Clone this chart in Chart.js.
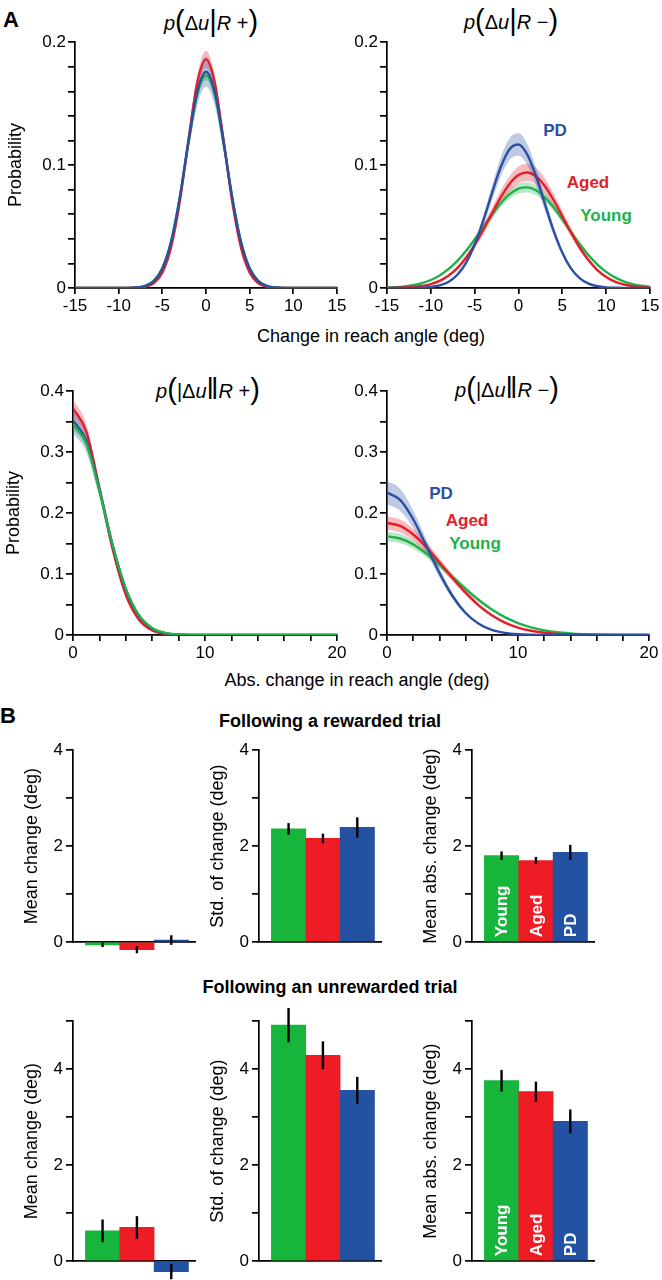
<!DOCTYPE html>
<html>
<head>
<meta charset="utf-8">
<script src="https://cdn.jsdelivr.net/npm/chart.js@4.4.1/dist/chart.umd.min.js"></script>
<style>
  body { margin: 0; background: #fff; }
  #fig { position: relative; width: 662px; height: 1280px; overflow: hidden;
         font-family: "Liberation Sans", Arial, Helvetica, sans-serif; color: #000; }
  canvas { position: absolute; }
  .t { position: absolute; transform: translate(-50%, -50%); white-space: nowrap; line-height: 1; }
  .letter { font-weight: bold; font-size: 22px; }
  .mt { font-size: 20px; }
  .mt .d { font-size: 29px; font-weight: 300; position: relative; top: 1px; }
  .xl { font-size: 18px; }
  .sec { font-weight: bold; font-size: 18px; }
  .lab { font-weight: bold; font-size: 17px; }
</style>
</head>
<body>
<div id="fig">
  <div class="t letter" style="left:11px;top:20px">A</div>
  <div class="t mt" style="left:211px;top:20px"><i>p</i><span class="d">(</span>&Delta;<i>u</i><span class="d">|</span><i>R</i> +<span class="d">)</span></div>
  <div class="t mt" style="left:511px;top:19px"><i>p</i><span class="d">(</span>&Delta;<i>u</i><span class="d">|</span><i>R</i> &minus;<span class="d">)</span></div>
  <div class="t mt" style="left:208px;top:388px"><i>p</i><span class="d">(</span>|&Delta;<i>u</i><span class="d">&#8214;</span><i>R</i> +<span class="d">)</span></div>
  <div class="t mt" style="left:507px;top:387px"><i>p</i><span class="d">(</span>|&Delta;<i>u</i><span class="d">&#8214;</span><i>R</i> &minus;<span class="d">)</span></div>

  <div class="t lab" style="left:555px;top:130px;color:#2b4fa3">PD</div>
  <div class="t lab" style="left:588px;top:182px;color:#e41e2b">Aged</div>
  <div class="t lab" style="left:606px;top:215px;color:#21b14b">Young</div>
  <div class="t lab" style="left:441px;top:493px;color:#2b4fa3">PD</div>
  <div class="t lab" style="left:467px;top:520px;color:#e41e2b">Aged</div>
  <div class="t lab" style="left:475px;top:543px;color:#21b14b">Young</div>

  <div class="t xl" style="left:371px;top:336px">Change in reach angle (deg)</div>
  <div class="t xl" style="left:357px;top:680px">Abs. change in reach angle (deg)</div>

  <div class="t letter" style="left:8px;top:716px">B</div>
  <div class="t sec" style="left:330px;top:721px">Following a rewarded trial</div>
  <div class="t sec" style="left:330px;top:987px">Following an unrewarded trial</div>

  <canvas id="tl"></canvas>
  <canvas id="tr"></canvas>
  <canvas id="bl"></canvas>
  <canvas id="br"></canvas>
  <canvas id="b1"></canvas>
  <canvas id="b2"></canvas>
  <canvas id="b3"></canvas>
  <canvas id="b4"></canvas>
  <canvas id="b5"></canvas>
  <canvas id="b6"></canvas>
</div>
<script>
// ---- data ----
const groups = ['Young', 'Aged', 'PD'];

const angleX = [-15,-14,-13,-12,-11,-10,-9,-8,-7,-6,-5,-4,-3,-2,-1,0,1,2,3,4,5,6,7,8,9,10,11,12,13,14,15];
const absX = [0,1,2,3,4,5,6,7,8,9,10,11,12,13,14,15,16,17,18,19,20];

// p(du | R+)
const rPlusYoung = [0,0,0,0,0,0.00001,0.00008,0.0004,0.0017,0.0058,0.0163,0.0381,0.0739,0.1185,0.1574,0.1730,0.1574,0.1185,0.0739,0.0381,0.0163,0.0058,0.0017,0.0004,0.00008,0.00001,0,0,0,0,0];
const rPlusAged = [0,0,0,0,0,0,0.00003,0.0002,0.0009,0.0038,0.0125,0.0330,0.0703,0.1207,0.1670,0.1860,0.1670,0.1207,0.0703,0.0330,0.0125,0.0038,0.0009,0.0002,0.00003,0,0,0,0,0,0];
const rPlusPD = [0,0,0,0,0,0.00001,0.00007,0.0004,0.0015,0.0054,0.0156,0.0373,0.0735,0.1194,0.1597,0.1760,0.1597,0.1194,0.0735,0.0373,0.0156,0.0054,0.0015,0.0004,0.00007,0.00001,0,0,0,0,0];
const rPlusYoungSem = [0,0,0,0,0,0,0,0,0,0.0002,0.0005,0.0010,0.0018,0.0028,0.0037,0.0040,0.0037,0.0028,0.0018,0.0010,0.0005,0.0002,0,0,0,0,0,0,0,0,0];
const rPlusAgedSem = [0,0,0,0,0,0,0,0,0.0001,0.0003,0.0008,0.0016,0.0030,0.0048,0.0065,0.0070,0.0065,0.0048,0.0030,0.0016,0.0008,0.0003,0.0001,0,0,0,0,0,0,0,0];
const rPlusPDSem = [0,0,0,0,0,0,0,0.0002,0.0004,0.0010,0.0022,0.0035,0.0055,0.0085,0.0112,0.0123,0.0112,0.0085,0.0055,0.0035,0.0022,0.0010,0.0004,0.0002,0,0,0,0,0,0,0];

// p(du | R-)
const rMinusYoung = [0.0004,0.0007,0.0013,0.0023,0.0040,0.0065,0.0102,0.0153,0.0219,0.0301,0.0395,0.0497,0.0599,0.0692,0.0764,0.0809,0.0819,0.0795,0.0738,0.0657,0.0559,0.0456,0.0356,0.0266,0.0191,0.0131,0.0086,0.0054,0.0032,0.0019,0.0010];
const rMinusAged = [0.0001,0.0002,0.0004,0.0008,0.0017,0.0032,0.0058,0.0100,0.0160,0.0244,0.0350,0.0476,0.0611,0.0741,0.0849,0.0919,0.0940,0.0908,0.0830,0.0716,0.0584,0.0450,0.0327,0.0225,0.0146,0.0090,0.0052,0.0029,0.0015,0.0007,0.0003];
const rMinusPD = [0,0.00001,0.00002,0.0001,0.0003,0.0008,0.0021,0.0049,0.0106,0.0203,0.0353,0.0552,0.0778,0.0989,0.1132,0.1168,0.1086,0.0910,0.0687,0.0467,0.0287,0.0158,0.0079,0.0035,0.0014,0.0005,0.0002,0.00004,0,0,0];
const rMinusYoungSem = [0,0,0.0001,0.0001,0.0002,0.0003,0.0005,0.0008,0.0011,0.0015,0.0020,0.0025,0.0030,0.0035,0.0038,0.0040,0.0041,0.0040,0.0037,0.0033,0.0028,0.0023,0.0018,0.0013,0.0010,0.0007,0.0004,0.0003,0.0002,0.0001,0.0001];
const rMinusAgedSem = [0,0,0,0.0001,0.0001,0.0002,0.0004,0.0008,0.0012,0.0018,0.0026,0.0036,0.0046,0.0056,0.0064,0.0069,0.0070,0.0068,0.0062,0.0054,0.0044,0.0034,0.0025,0.0017,0.0011,0.0007,0.0004,0.0002,0.0001,0.0001,0];
const rMinusPDSem = [0,0,0,0,0,0.0001,0.0002,0.0004,0.0008,0.0016,0.0028,0.0043,0.0061,0.0077,0.0088,0.0091,0.0085,0.0071,0.0054,0.0036,0.0022,0.0012,0.0006,0.0003,0.0001,0,0,0,0,0,0];

// p(|du| | R+)
const absPlusYoung = [0.346,0.3148,0.237,0.1478,0.0762,0.0326,0.0116,0.0034,0.0008,0.0002,0,0,0,0,0,0,0,0,0,0,0];
const absPlusAged = [0.372,0.334,0.241,0.141,0.066,0.025,0.0076,0.0019,0.0004,0.0001,0,0,0,0,0,0,0,0,0,0,0];
const absPlusPD = [0.352,0.3194,0.2388,0.147,0.0746,0.0312,0.0108,0.003,0.0008,0.0001,0,0,0,0,0,0,0,0,0,0,0];
const absPlusYoungSem = [0.008,0.007,0.005,0.0034,0.0019,0.0009,0.0003,0.0001,0,0,0,0,0,0,0,0,0,0,0,0,0];
const absPlusAgedSem = [0.015,0.012,0.008,0.005,0.0025,0.001,0.0004,0.0001,0,0,0,0,0,0,0,0,0,0,0,0,0];
const absPlusPDSem = [0.021,0.019,0.014,0.009,0.0055,0.003,0.0013,0.0005,0.0002,0.0001,0,0,0,0,0,0,0,0,0,0,0];

// p(|du| | R-)
const absMinusYoung = [0.1618,0.1583,0.1487,0.1337,0.1154,0.0954,0.0757,0.0575,0.0419,0.0293,0.0196,0.0126,0.0077,0.0045,0.0026,0.0014,0.0007,0.0004,0.0002,0.0001,0.0001];
const absMinusAged = [0.1838,0.1789,0.1649,0.1441,0.1192,0.0934,0.0694,0.0487,0.0325,0.0204,0.0122,0.0069,0.0037,0.0019,0.0009,0.0004,0.0002,0.0001,0,0,0];
const absMinusPD = [0.2336,0.2218,0.1899,0.1465,0.1019,0.0640,0.0361,0.0185,0.0084,0.0035,0.0013,0.0005,0.0002,0.0001,0,0,0,0,0,0,0];
const absMinusYoungSem = [0.008,0.0078,0.0073,0.0066,0.0058,0.0049,0.004,0.0031,0.0023,0.0016,0.0011,0.0007,0.0004,0.0003,0.0002,0.0001,0,0,0,0,0];
const absMinusAgedSem = [0.011,0.0105,0.0095,0.0083,0.007,0.0056,0.0043,0.0031,0.0021,0.0014,0.0009,0.0005,0.0003,0.0002,0.0001,0,0,0,0,0,0];
const absMinusPDSem = [0.019,0.018,0.0145,0.0105,0.0075,0.005,0.003,0.0016,0.0008,0.0003,0.0001,0,0,0,0,0,0,0,0,0,0];

// tick labels
const angleTicks = [-15,-10,-5,0,5,10,15];
const absTicks = [0,10,20];
const probTicksA = [0,0.1,0.2];
const probTicksAbs = [0,0.1,0.2,0.3,0.4];
const barTicks = [0,2,4];

// panel B: Young, Aged, PD
const rewMean = [-0.06,-0.16,0.04];
const rewMeanErr = [0.045,0.075,0.1];
const rewStd = [2.36,2.16,2.39];
const rewStdErr = [0.12,0.1,0.21];
const rewAbs = [1.80,1.70,1.87];
const rewAbsErr = [0.09,0.075,0.155];
const unrMean = [0.63,0.70,-0.22];
const unrMeanErr = [0.235,0.235,0.16];
const unrStd = [4.92,4.29,3.56];
const unrStdErr = [0.36,0.29,0.28];
const unrAbs = [3.76,3.53,2.91];
const unrAbsErr = [0.225,0.21,0.25];

// ---- styles ----
const lineCol = { Young: '#21b14b', Aged: '#e41e2b', PD: '#2b4fa3' };
const bandCol = { Young: 'rgba(33,177,75,0.3)', Aged: 'rgba(228,30,43,0.3)', PD: 'rgba(43,79,163,0.3)' };
const barCol = ['#17b53c', '#ee1c25', '#2452a3'];
const FONT = '"Liberation Sans", Arial, Helvetica, sans-serif';

Chart.defaults.font.family = FONT;
Chart.defaults.color = '#000';
Chart.defaults.animation = false;
Chart.defaults.events = [];
Chart.defaults.plugins.legend.display = false;
Chart.defaults.plugins.tooltip.enabled = false;

function place(id, left, top, w, h) {
  const c = document.getElementById(id);
  c.width = w; c.height = h;
  c.style.left = left + 'px'; c.style.top = top + 'px';
  c.style.width = w + 'px'; c.style.height = h + 'px';
  return c;
}

function pts(xs, ys) { return xs.map((x, i) => ({ x: x, y: ys[i] })); }

function labelIf(v, list) {
  const hit = list.find(t => Math.abs(t - v) < 1e-6);
  return hit === undefined ? '' : String(hit);
}

const border = { color: '#000', width: 1.7 };

function curveChart(id, area, wy, xs, series, xAxis, yAxis, yTitle) {
  const padT = 12, padR = 12, xh = 32;
  const canvas = place(id, area.l - wy, area.t - padT,
    wy + area.r - area.l + padR, padT + area.b - area.t + xh);
  // first dataset is drawn on top, so means go first and bands after
  const datasets = series.map(s => ({
    data: pts(xs, s.y), borderColor: lineCol[s.name], borderWidth: 2.4, fill: false
  }));
  series.forEach(s => {
    datasets.push({ data: pts(xs, s.y.map((v, i) => v + s.sem[i])), borderWidth: 0, fill: false });
    datasets.push({ data: pts(xs, s.y.map((v, i) => v - s.sem[i])), borderWidth: 0, fill: '-1',
                    backgroundColor: bandCol[s.name] });
  });
  new Chart(canvas, {
    type: 'line',
    data: { datasets: datasets },
    options: {
      responsive: false,
      layout: { padding: { top: padT, right: padR, left: 0, bottom: 0 } },
      elements: { point: { radius: 0 }, line: { cubicInterpolationMode: 'monotone' } },
      scales: {
        x: {
          type: 'linear', min: xAxis.min, max: xAxis.max,
          afterFit: s => { s.height = xh; },
          border: border,
          grid: { drawOnChartArea: false, color: '#000', lineWidth: 1.7, tickLength: 6 },
          ticks: { stepSize: xAxis.step, maxTicksLimit: 100, autoSkip: false, maxRotation: 0,
                   padding: 2, font: { size: 17 }, callback: v => labelIf(v, xAxis.labels) }
        },
        y: {
          min: 0, max: yAxis.max,
          afterFit: s => { s.width = wy; },
          border: border,
          grid: { drawOnChartArea: false, color: '#000', lineWidth: 1.7, tickLength: 7 },
          ticks: { stepSize: yAxis.step, maxTicksLimit: 100, autoSkip: false,
                   padding: 2, font: { size: 17 }, callback: v => labelIf(v, yAxis.labels) },
          title: { display: !!yTitle, text: yTitle || '', font: { size: 18 }, padding: { top: 2, bottom: 0 } }
        }
      }
    }
  });
}

const errorBars = {
  id: 'errorBars',
  afterDatasetsDraw(chart) {
    const ds = chart.data.datasets[0];
    const meta = chart.getDatasetMeta(0);
    const y = chart.scales.y;
    const ctx = chart.ctx;
    ctx.save();
    ctx.strokeStyle = '#000';
    ctx.lineWidth = 2.4;
    meta.data.forEach((bar, i) => {
      const v = ds.data[i].y, e = ds.errors[i];
      ctx.beginPath();
      ctx.moveTo(bar.x, y.getPixelForValue(v - e));
      ctx.lineTo(bar.x, y.getPixelForValue(v + e));
      ctx.stroke();
    });
    ctx.restore();
  }
};

const barNames = {
  id: 'barNames',
  afterDatasetsDraw(chart, args, opts) {
    if (!opts || !opts.show) return;
    const meta = chart.getDatasetMeta(0);
    const ctx = chart.ctx;
    meta.data.forEach((bar, i) => {
      ctx.save();
      ctx.translate(bar.x, bar.base - 4);
      ctx.rotate(-Math.PI / 2);
      ctx.fillStyle = '#fff';
      ctx.font = 'bold 17px ' + FONT;
      ctx.textAlign = 'left';
      ctx.textBaseline = 'middle';
      ctx.fillText(groups[i], 0, 1);
      ctx.restore();
    });
  }
};

function barChart(id, axisX, row, vals, errs, yTitle, showNames) {
  const wy = 56, padT = 12, padR = 4, areaW = 122;
  const canvas = place(id, axisX - wy, row.t - padT, wy + areaW + padR, padT + row.b - row.t + row.room);
  new Chart(canvas, {
    type: 'bar',
    data: {
      datasets: [{
        data: groups.map((g, i) => ({ x: i, y: vals[i] })),
        errors: errs,
        backgroundColor: barCol,
        borderWidth: 0,
        barPercentage: 1,
        categoryPercentage: 1,
        clip: false
      }]
    },
    options: {
      responsive: false,
      layout: { padding: { top: padT, right: padR, left: 0, bottom: 0 } },
      plugins: { barNames: { show: showNames } },
      scales: {
        x: {
          type: 'linear', min: -0.86, max: 2.69, offset: false,
          afterFit: s => { s.height = row.room; },
          border: border,
          grid: { display: false, offset: false },
          ticks: { display: false }
        },
        y: {
          min: 0, max: row.max,
          afterFit: s => { s.width = wy; },
          border: border,
          grid: { drawOnChartArea: false, color: '#000', lineWidth: 1.7, tickLength: 7 },
          ticks: { stepSize: 1, maxTicksLimit: 100, autoSkip: false, padding: 3,
                   font: { size: 17 }, callback: v => labelIf(v, barTicks) },
          title: { display: true, text: yTitle, font: { size: 18 }, padding: { top: 4, bottom: 0 } }
        }
      }
    },
    plugins: [errorBars, barNames]
  });
}

// ---- panel A ----
curveChart('tl', { l: 75, r: 337, t: 42, b: 288 }, 72, angleX, [
  { name: 'PD', y: rPlusPD, sem: rPlusPDSem },
  { name: 'Aged', y: rPlusAged, sem: rPlusAgedSem },
  { name: 'Young', y: rPlusYoung, sem: rPlusYoungSem }
], { min: -15, max: 15, step: 5, labels: angleTicks }, { max: 0.2, step: 0.02, labels: probTicksA }, 'Probability');

curveChart('tr', { l: 387, r: 650, t: 42, b: 288 }, 50, angleX, [
  { name: 'PD', y: rMinusPD, sem: rMinusPDSem },
  { name: 'Aged', y: rMinusAged, sem: rMinusAgedSem },
  { name: 'Young', y: rMinusYoung, sem: rMinusYoungSem }
], { min: -15, max: 15, step: 5, labels: angleTicks }, { max: 0.2, step: 0.02, labels: probTicksA }, null);

curveChart('bl', { l: 73, r: 337, t: 391, b: 635 }, 72, absX, [
  { name: 'Young', y: absPlusYoung, sem: absPlusYoungSem },
  { name: 'PD', y: absPlusPD, sem: absPlusPDSem },
  { name: 'Aged', y: absPlusAged, sem: absPlusAgedSem }
], { min: 0, max: 20, step: 2, labels: absTicks }, { max: 0.4, step: 0.05, labels: probTicksAbs }, 'Probability');

curveChart('br', { l: 387, r: 649, t: 391, b: 635 }, 50, absX, [
  { name: 'PD', y: absMinusPD, sem: absMinusPDSem },
  { name: 'Aged', y: absMinusAged, sem: absMinusAgedSem },
  { name: 'Young', y: absMinusYoung, sem: absMinusYoungSem }
], { min: 0, max: 20, step: 2, labels: absTicks }, { max: 0.4, step: 0.05, labels: probTicksAbs }, null);

// ---- panel B ----
const row1 = { t: 749, b: 942, room: 30, max: 4 };
const row2 = { t: 1020, b: 1261, room: 19, max: 5 };

barChart('b1', 73, row1, rewMean, rewMeanErr, 'Mean change (deg)', false);
barChart('b2', 259, row1, rewStd, rewStdErr, 'Std. of change (deg)', false);
barChart('b3', 472, row1, rewAbs, rewAbsErr, 'Mean abs. change (deg)', true);
barChart('b4', 73, row2, unrMean, unrMeanErr, 'Mean change (deg)', false);
barChart('b5', 259, row2, unrStd, unrStdErr, 'Std. of change (deg)', false);
barChart('b6', 472, row2, unrAbs, unrAbsErr, 'Mean abs. change (deg)', true);
</script>
</body>
</html>
